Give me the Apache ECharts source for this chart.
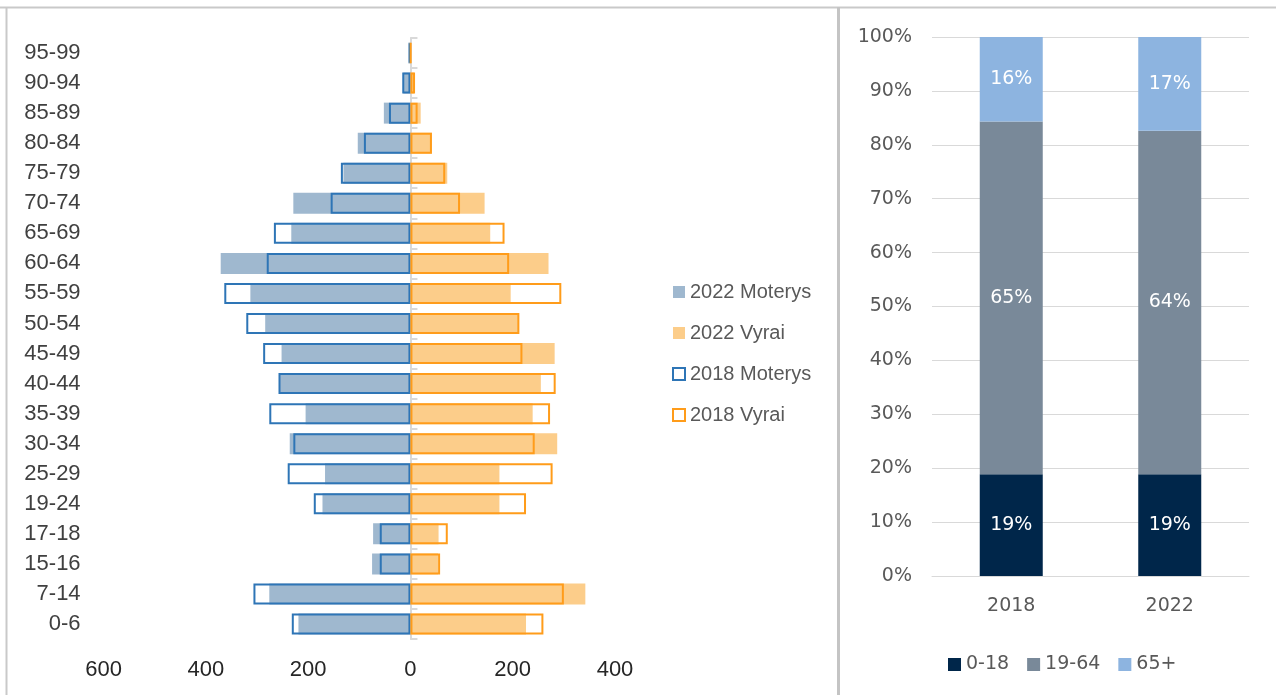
<!DOCTYPE html>
<html>
<head>
<meta charset="utf-8">
<script src="https://cdn.jsdelivr.net/npm/echarts@6/dist/echarts.min.js"></script>
<style>html,body{margin:0;padding:0;background:#fff;}#c{width:1276px;height:695px;}</style>
</head>
<body>
<div id="c"></div>
<script>
// Population pyramid data (bottom category first)
const ageGroups = ['0-6','7-14','15-16','17-18','19-24','25-29','30-34','35-39','40-44','45-49','50-54','55-59','60-64','65-69','70-74','75-79','80-84','85-89','90-94','95-99'];
const men2022   = [219, 276, 75, 73, 172, 167, 236, 205, 257, 252, 284, 313, 371, 233, 229, 131, 103, 52, 14, 4];
const women2022 = [226, 342, 54, 55, 174, 174, 287, 239, 255, 282, 212, 196, 270, 156, 145, 72, 42, 20, 7, 1];
const men2018   = [232, 307, 60, 60, 189, 240, 229, 276, 258, 288, 321, 364, 281, 267, 156, 136, 91, 42, 16, 3];
const women2018 = [260, 300, 58, 73, 226, 278, 243, 273, 284, 219, 213, 295, 193, 184, 97, 68, 42, 14, 9, 1];

// Share chart data (percent)
const years = ['2018', '2022'];
const share0to18 = [18.9, 18.9];
const share19to64 = [65.4, 63.7];
const share65plus = [15.7, 17.4];

const neg = a => a.map(v => -v);
const leftFont = 'Liberation Sans';
const rightFont = 'DejaVu Sans';

const chart = echarts.init(document.getElementById('c'));
chart.setOption({
  animation: false,
  backgroundColor: '#fff',
  graphic: [
    { type: 'line', shape: { x1: 0, y1: 7.5, x2: 1276, y2: 7.5 }, style: { stroke: '#c9c9c9', lineWidth: 2 } },
    { type: 'line', shape: { x1: 6.5, y1: 7, x2: 6.5, y2: 695 }, style: { stroke: '#c9c9c9', lineWidth: 2 } },
    { type: 'line', shape: { x1: 838.5, y1: 7, x2: 838.5, y2: 695 }, style: { stroke: '#c4c4c4', lineWidth: 3 } }
  ],
  legend: [
    {
      orient: 'vertical', left: 667, top: 277, itemGap: 21, itemWidth: 12, itemHeight: 12,
      icon: 'rect',
      textStyle: { fontFamily: leftFont, fontSize: 20, color: '#595959' },
      data: ['2022 Moterys', '2022 Vyrai', '2018 Moterys', '2018 Vyrai']
    },
    {
      orient: 'horizontal', left: 943, top: 650, itemGap: 18, itemWidth: 13, itemHeight: 13,
      icon: 'rect',
      textStyle: { fontFamily: rightFont, fontSize: 19, color: '#595959' },
      data: ['0-18', '19-64', '65+']
    }
  ],
  grid: [
    { left: 103.6, right: 661, top: 38, bottom: 56 },
    { left: 932, right: 27, top: 37, bottom: 119 }
  ],
  xAxis: [
    {
      gridIndex: 0, type: 'value', min: -600, max: 400, interval: 200,
      axisLine: { show: false }, axisTick: { show: false }, splitLine: { show: false },
      axisLabel: { margin: 20, fontFamily: leftFont, fontSize: 22, color: '#262626', formatter: v => String(Math.abs(v)) }
    },
    {
      gridIndex: 1, type: 'category', data: years,
      axisLine: { show: true, lineStyle: { color: '#d9d9d9', width: 1 } },
      axisTick: { show: false },
      axisLabel: { margin: 21, fontFamily: rightFont, fontSize: 19, color: '#595959' }
    }
  ],
  yAxis: [
    {
      gridIndex: 0, type: 'category', data: ageGroups,
      axisLine: { show: false, onZero: false }, axisTick: { show: false },
      axisLabel: { margin: 23, fontFamily: leftFont, fontSize: 22, color: '#404040' }
    },
    {
      gridIndex: 0, type: 'category', data: ageGroups,
      axisLine: { show: true, onZero: true, lineStyle: { color: '#d9d9d9', width: 2 } },
      axisTick: { show: true, length: 7, lineStyle: { color: '#d9d9d9', width: 2 } },
      axisLabel: { show: false }
    },
    {
      gridIndex: 1, type: 'value', min: 0, max: 100, interval: 10,
      axisLine: { show: false }, axisTick: { show: false },
      splitLine: { lineStyle: { color: '#d9d9d9', width: 1 } },
      axisLabel: { margin: 20, fontFamily: rightFont, fontSize: 19, color: '#595959', formatter: v => v + '%' }
    }
  ],
  series: [
    { name: '2022 Moterys', type: 'bar', xAxisIndex: 0, yAxisIndex: 0, data: neg(men2022), barWidth: 21, barGap: '-100%',
      itemStyle: { color: '#9fb8cf' } },
    { name: '2022 Vyrai', type: 'bar', xAxisIndex: 0, yAxisIndex: 0, data: women2022, barWidth: 21, barGap: '-100%',
      itemStyle: { color: '#fccd8a' } },
    { name: '2018 Moterys', type: 'bar', xAxisIndex: 0, yAxisIndex: 0, data: neg(men2018), barWidth: 21, barGap: '-100%',
      itemStyle: { color: 'rgba(0,0,0,0)', borderColor: '#2e75b6', borderWidth: 2 } },
    { name: '2018 Vyrai', type: 'bar', xAxisIndex: 0, yAxisIndex: 0, data: women2018, barWidth: 21, barGap: '-100%',
      itemStyle: { color: 'rgba(0,0,0,0)', borderColor: '#ff9c1a', borderWidth: 2 } },

    { name: '0-18', type: 'bar', stack: 's', xAxisIndex: 1, yAxisIndex: 2, data: share0to18, barWidth: 63,
      itemStyle: { color: '#00264a' },
      label: { show: true, position: 'inside', color: '#fff', fontFamily: rightFont, fontSize: 19, formatter: p => Math.round(p.value) + '%' } },
    { name: '19-64', type: 'bar', stack: 's', xAxisIndex: 1, yAxisIndex: 2, data: share19to64, barWidth: 63,
      itemStyle: { color: '#798999' },
      label: { show: true, position: 'inside', color: '#fff', fontFamily: rightFont, fontSize: 19, formatter: p => Math.round(p.value) + '%' } },
    { name: '65+', type: 'bar', stack: 's', xAxisIndex: 1, yAxisIndex: 2, data: share65plus, barWidth: 63,
      itemStyle: { color: '#8db4e0' },
      label: { show: true, position: 'inside', color: '#fff', fontFamily: rightFont, fontSize: 19, formatter: p => Math.round(p.value) + '%' } }
  ]
});
</script>
</body>
</html>
